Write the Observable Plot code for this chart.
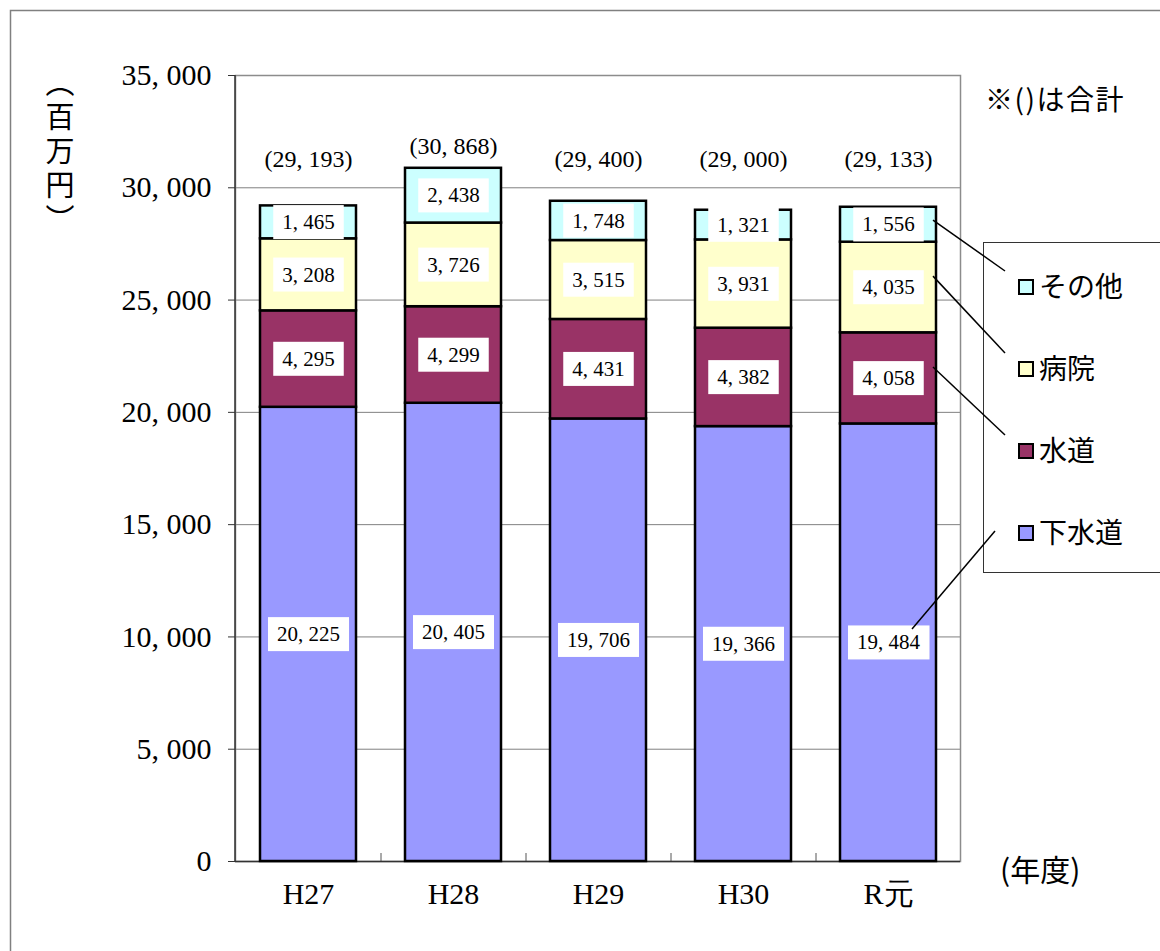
<!DOCTYPE html>
<html><head><meta charset="utf-8">
<script src="https://cdn.jsdelivr.net/npm/d3@7"></script>
<script src="https://cdn.jsdelivr.net/npm/@observablehq/plot@0.6"></script>
<style>
body{margin:0;background:#fff;}
#chart{position:relative;width:1160px;height:951px;overflow:hidden;}
</style></head><body><div id="chart"></div>
<script>
// 会計別の内訳（百万円）
const years = ["H27", "H28", "H29", "H30", "R元"];
const seriesNames = ["下水道", "水道", "病院", "その他"];
const sewer = [20225, 20405, 19706, 19366, 19484];
const water = [4295, 4299, 4431, 4382, 4058];
const hospital = [3208, 3726, 3515, 3931, 4035];
const other = [1465, 2438, 1748, 1321, 1556];
const totals = [29193, 30868, 29400, 29000, 29133];
const yTicks = [0, 5000, 10000, 15000, 20000, 25000, 30000, 35000];
const colors = ["#9999FF", "#993366", "#FFFFCC", "#CCFFFF"];

const W = 1160, H = 951, mL = 235, mR = 200, mT = 75, mB = 90;
const step = (W - mL - mR) / years.length;
const serif = "'Liberation Serif','DejaVu Serif',serif";
const sans = "'Noto Sans CJK JP','Noto Sans',sans-serif";
const fmt = v => d3.format(",")(v).replace(",", ", ");

const seriesValues = [sewer, water, hospital, other];
const rows = years.flatMap((yr, i) =>
  seriesValues.map((arr, k) => ({year: yr, series: seriesNames[k], value: arr[i]})));
const totalRows = years.map((yr, i) => ({year: yr, total: totals[i]}));

const plot = Plot.plot({
  width: W, height: H,
  marginLeft: mL, marginRight: mR, marginTop: mT, marginBottom: mB,
  style: {fontFamily: serif, background: "white", color: "black"},
  x: {domain: years, paddingInner: 0.34, paddingOuter: 0.17, label: null},
  y: {domain: [0, 35000], label: null},
  color: {domain: seriesNames, range: colors},
  marks: [
    Plot.gridY(yTicks, {stroke: "#808080", strokeOpacity: 1}),
    Plot.frame({stroke: "#8c8c8c", strokeWidth: 1.5}),
    Plot.axisY(yTicks, {tickSize: 7, tickPadding: 17, tickFormat: fmt, fontSize: 30, stroke: "#333"}),
    Plot.axisX({tickSize: 0, tickPadding: 21, fontSize: 30}),
    Plot.ruleX(years.slice(1), {x: d => d, dx: -step / 2, y1: 0, y2: 0, insetTop: -8, stroke: "#555"}),
    Plot.ruleY([0], {stroke: "#333", strokeWidth: 1.5}),
    Plot.barY(rows, {x: "year", y: "value", fill: "series", stroke: "black", strokeWidth: 2.5}),
    Plot.text(rows, Plot.stackY({x: "year", y: "value", text: d => fmt(d.value), fontSize: 21, fill: "black", className: "seglabel"})),
    Plot.text(totalRows, {x: "year", y: d => Math.max(31250, d.total + 1000), text: d => `(${fmt(d.total)})`, fontSize: 24, fill: "black"})
  ]
});

document.getElementById("chart").appendChild(plot);
const svg = d3.select(plot);

// 値ラベルの白い背景
svg.selectAll("g.seglabel text").each(function() {
  const b = this.getBBox();
  d3.select(this.parentNode).insert("rect", () => this)
    .attr("transform", this.getAttribute("transform"))
    .attr("x", b.x - 9).attr("y", b.y - 5)
    .attr("width", b.width + 18).attr("height", b.height + 10)
    .attr("fill", "white");
});

// 縦軸の線
svg.append("line").attr("x1", mL).attr("x2", mL).attr("y1", mT).attr("y2", H - mB)
  .attr("stroke", "#333").attr("stroke-width", 1.5);

// 外枠
svg.append("rect").attr("x", 10.5).attr("y", 10.5).attr("width", 1300).attr("height", 1100)
  .attr("fill", "none").attr("stroke", "#808080").attr("stroke-width", 1.5);

const deco = svg.append("g").attr("text-anchor", "start").attr("font-family", sans).attr("fill", "black");

// 単位
deco.append("text").attr("x", 60).attr("y", 68)
  .style("writing-mode", "vertical-rl").style("letter-spacing", "5px")
  .attr("font-size", 29)
  .text("（百万円）");

deco.append("text").attr("x", 985).attr("y", 100).attr("dy", "0.35em")
  .attr("font-size", 28).style("letter-spacing", "1.5px")
  .text("※()は合計");

deco.append("text").attr("x", 1000).attr("y", 870).attr("dy", "0.35em")
  .attr("font-size", 30)
  .text("(年度)");

// 凡例
const legendX = 983.5, legendY = 242.5, itemGap = 82, firstItem = 287;
deco.append("rect").attr("x", legendX).attr("y", legendY).attr("width", 300).attr("height", 330)
  .attr("fill", "white").attr("stroke", "#333").attr("stroke-width", 1);
const order = [3, 2, 1, 0];
const xs = plot.scale("x"), ys = plot.scale("y");
const last = years.length - 1;
const barRight = xs.apply(years[last]) + xs.bandwidth;
order.forEach((k, j) => {
  const cy = firstItem + j * itemGap;
  deco.append("rect").attr("x", 1019).attr("y", cy - 7).attr("width", 14).attr("height", 14)
    .attr("fill", colors[k]).attr("stroke", "black").attr("stroke-width", 2);
  deco.append("text").attr("x", 1039).attr("y", cy).attr("dy", "0.35em")
    .attr("font-size", 28)
    .text(seriesNames[k]);
  // 引出線：下から上がる線は棒の中のラベル近くまで伸ばす
  const base = seriesValues.slice(0, k).reduce((s, a) => s + a[last], 0);
  const below = ys.apply(base + 0.62 * seriesValues[k][last]) > cy;
  const v = base + (below ? 0.53 : 0.62) * seriesValues[k][last];
  deco.append("line")
    .attr("x1", below ? barRight - 24 : barRight - 3).attr("y1", ys.apply(v))
    .attr("x2", below ? 995 : 1005).attr("y2", below ? cy - 2 : cy - 16)
    .attr("stroke", "black").attr("stroke-width", 1.5);
});
</script>
</body></html>
